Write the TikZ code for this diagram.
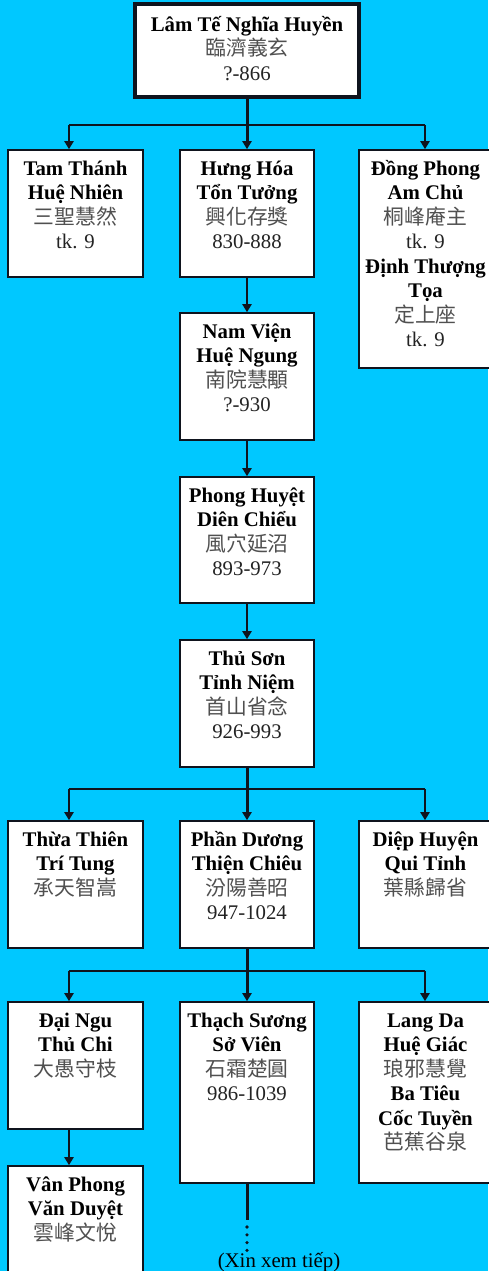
\documentclass[tikz,border=0pt]{standalone}
\usepackage{fontspec}
\setmainfont{Liberation Serif}
\newfontfamily\cjkf{Noto Sans CJK TC}
\usetikzlibrary{arrows.meta}
\definecolor{bgc}{RGB}{0,200,255}
\definecolor{cjkc}{RGB}{80,80,80}
\definecolor{numc}{RGB}{35,35,35}
\definecolor{linec}{RGB}{15,20,30}
\newcommand\nm[1]{{\rmfamily\bfseries\color{black}#1}}
\newcommand\cj[1]{{\cjkf\mdseries\color{cjkc}#1}}
\newcommand\yr[1]{{\rmfamily\mdseries\color{numc}#1}}
\newcommand\ftop{\rule{0pt}{22pt}}
\newcommand\bx[8][box]{%
  \node[#1, minimum width={#5-#3}, minimum height={#6-#4}] (#2) at ({(#3+#5)/2},{(#4+#6)/2}) {};
  \node[txt, anchor=north] (#2t) at ([yshift=-#7pt]#2.north) {\ftop#8};
}
\begin{document}
\begin{tikzpicture}[x=1pt,y=-1pt,
  box/.style={draw=linec, line width=1.6pt, fill=white, inner sep=0pt},
  topbox/.style={draw=linec, line width=3.5pt, fill=white, inner sep=0pt},
  txt/.style={align=center, inner sep=0pt, font=\fontsize{20.8}{24.5}\selectfont\rmfamily},
  branch/.style={draw=linec, line width=2pt},
  trunk/.style={draw=linec, line width=3pt},
  arr/.style={branch, -{Triangle[width=9pt,length=8pt]}},
  tarr/.style={trunk, -{Triangle[width=9pt,length=8pt]}},
  dots/.style={draw=linec, line width=3.6pt, line cap=round, dash pattern=on 0pt off 7.8pt}]
\fill[bgc] (0,0) rectangle (488,1271);
\useasboundingbox (0,0) rectangle (488,1271);

\bx[topbox]{top}{135}{4}{359}{97}{7}{\nm{Lâm Tế Nghĩa Huyền}\\\cj{臨濟義玄}\\\yr{?-866}}
\bx{tam}{8}{150}{143}{277}{4}{\nm{Tam Thánh}\\\nm{Huệ Nhiên}\\\cj{三聖慧然}\\\yr{tk. 9}}
\bx{hung}{180}{150}{314}{277}{4}{\nm{Hưng Hóa}\\\nm{Tổn Tưởng}\\\cj{興化存獎}\\\yr{830-888}}
\bx{dong}{359}{150}{492}{368}{4}{\nm{Đồng Phong}\\\nm{Am Chủ}\\\cj{桐峰庵主}\\\yr{tk. 9}\\\nm{Định Thượng}\\\nm{Tọa}\\\cj{定上座}\\\yr{tk. 9}}
\bx{nam}{180}{313}{314}{440}{4}{\nm{Nam Viện}\\\nm{Huệ Ngung}\\\cj{南院慧顒}\\\yr{?-930}}
\bx{phong}{180}{477}{314}{603}{4}{\nm{Phong Huyệt}\\\nm{Diên Chiểu}\\\cj{風穴延沼}\\\yr{893-973}}
\bx{thu}{180}{640}{314}{767}{4}{\nm{Thủ Sơn}\\\nm{Tỉnh Niệm}\\\cj{首山省念}\\\yr{926-993}}
\bx{thua}{8}{821}{143}{948}{4}{\nm{Thừa Thiên}\\\nm{Trí Tung}\\\cj{承天智嵩}}
\bx{phan}{180}{821}{314}{948}{4}{\nm{Phần Dương}\\\nm{Thiện Chiêu}\\\cj{汾陽善昭}\\\yr{947-1024}}
\bx{diep}{359}{821}{492}{948}{4}{\nm{Diệp Huyện}\\\nm{Qui Tỉnh}\\\cj{葉縣歸省}}
\bx{dai}{8}{1002}{143}{1129}{4}{\nm{Đại Ngu}\\\nm{Thủ Chi}\\\cj{大愚守枝}}
\bx{thach}{180}{1002}{314}{1183}{4}{\nm{Thạch Sương}\\\nm{Sở Viên}\\\cj{石霜楚圓}\\\yr{986-1039}}
\bx{lang}{359}{1002}{492}{1183}{4}{\nm{Lang Da}\\\nm{Huệ Giác}\\\cj{琅邪慧覺}\\\nm{Ba Tiêu}\\\nm{Cốc Tuyền}\\\cj{芭蕉谷泉}}
\bx{van}{8}{1166}{143}{1290}{4}{\nm{Vân Phong}\\\nm{Văn Duyệt}\\\cj{雲峰文悅}}

\node[txt, anchor=base] (more) at (279,1267) {(Xin xem tiếp)};

% level 1
\coordinate (h1l) at (69,125);
\coordinate (h1r) at (425,125);
\draw[branch] (h1l) -- (h1r);
\draw[tarr] (top) -- (hung);
\draw[arr] (h1l) -- (h1l |- tam.north);
\draw[arr] (h1r) -- (h1r |- dong.north);
% chain
\draw[arr] (hung) -- (nam);
\draw[arr] (nam) -- (phong);
\draw[arr] (phong) -- (thu);
% level 2
\coordinate (h2l) at (69,789);
\coordinate (h2r) at (425,789);
\draw[branch] (h2l) -- (h2r);
\draw[tarr] (thu) -- (phan);
\draw[arr] (h2l) -- (h2l |- thua.north);
\draw[arr] (h2r) -- (h2r |- diep.north);
% level 3
\coordinate (h3l) at (69,971);
\coordinate (h3r) at (425,971);
\draw[branch] (h3l) -- (h3r);
\draw[tarr] (phan) -- (thach);
\draw[arr] (h3l) -- (h3l |- dai.north);
\draw[arr] (h3r) -- (h3r |- lang.north);
\draw[arr] (dai.south -| h3l) -- (h3l |- van.north);
% continuation
\coordinate (c1) at (247,1220);
\coordinate (c2) at (247,1227);
\coordinate (c3) at (247,1251);
\draw[trunk] (thach) -- (c1);
\draw[dots] (c2) -- (c3);
\end{tikzpicture}
\end{document}
